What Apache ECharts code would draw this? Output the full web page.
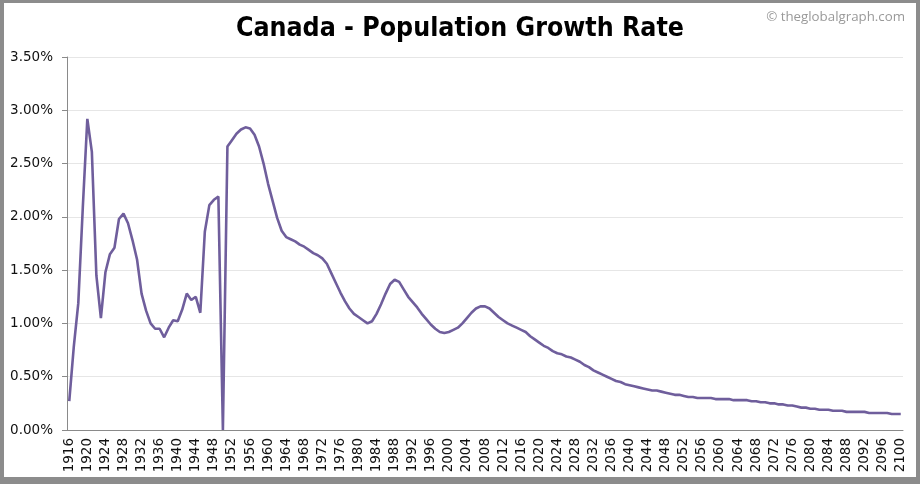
<!DOCTYPE html>
<html>
<head>
<meta charset="utf-8">
<script src="https://cdn.jsdelivr.net/npm/echarts@6/dist/echarts.min.js"></script>
<style>
html,body{margin:0;padding:0;background:#8c8c8c;width:920px;height:484px;overflow:hidden;}
#c{position:absolute;left:4px;top:3px;width:912px;height:474px;background:#fff;}
</style>
</head>
<body>
<div id="c"></div>
<script>
var chartTitle = 'Canada - Population Growth Rate';
var watermark = '© theglobalgraph.com';
var startYear = 1916, endYear = 2100;
var years = [];
for (var y = startYear; y <= endYear; y++) years.push(String(y));

// growth rate in percent, one value per year 1916..2100
var growth1916 = [0.27, 0.78, 1.19, 2.09, 2.92, 2.61, 1.45, 1.05, 1.48, 1.65, 1.71, 1.98, 2.03, 1.94];
var growth1930 = [1.78, 1.60, 1.28, 1.12, 1.00, 0.95, 0.95, 0.87, 0.96, 1.03];
var growth1940 = [1.02, 1.13, 1.28, 1.22, 1.25, 1.10, 1.86, 2.11, 2.16, 2.19];
var growth1950 = [0.00, 2.66, 2.72, 2.78, 2.82, 2.84, 2.83, 2.77, 2.66, 2.50];
var growth1960 = [2.31, 2.15, 1.99, 1.87, 1.81, 1.79, 1.77, 1.74, 1.72, 1.69];
var growth1970 = [1.66, 1.64, 1.61, 1.56, 1.47, 1.38, 1.29, 1.21, 1.14, 1.09];
var growth1980 = [1.06, 1.03, 1.00, 1.02, 1.09, 1.18, 1.28, 1.37, 1.41, 1.39];
var growth1990 = [1.32, 1.25, 1.20, 1.15, 1.09, 1.04, 0.99, 0.95, 0.92, 0.91];
var growth2000 = [0.92, 0.94, 0.96, 1.00, 1.05, 1.10, 1.14, 1.16, 1.16, 1.14];
var growth2010 = [1.10, 1.06, 1.03, 1.00, 0.98, 0.96, 0.94, 0.92, 0.88, 0.85];
var growth2020 = [0.82, 0.79, 0.77, 0.74, 0.72, 0.71, 0.69, 0.68, 0.66, 0.64];
var growth2030 = [0.61, 0.59, 0.56, 0.54, 0.52, 0.50, 0.48, 0.46, 0.45, 0.43];
var growth2040 = [0.42, 0.41, 0.40, 0.39, 0.38, 0.37, 0.37, 0.36, 0.35, 0.34];
var growth2050 = [0.33, 0.33, 0.32, 0.31, 0.31, 0.30, 0.30, 0.30, 0.30, 0.29];
var growth2060 = [0.29, 0.29, 0.29, 0.28, 0.28, 0.28, 0.28, 0.27, 0.27, 0.26];
var growth2070 = [0.26, 0.25, 0.25, 0.24, 0.24, 0.23, 0.23, 0.22, 0.21, 0.21];
var growth2080 = [0.20, 0.20, 0.19, 0.19, 0.19, 0.18, 0.18, 0.18, 0.17, 0.17];
var growth2090 = [0.17, 0.17, 0.17, 0.16, 0.16, 0.16, 0.16, 0.16, 0.15, 0.15];
var growth2100 = [0.15];

var growth = [].concat(growth1916, growth1930, growth1940, growth1950, growth1960,
  growth1970, growth1980, growth1990, growth2000, growth2010, growth2020, growth2030,
  growth2040, growth2050, growth2060, growth2070, growth2080, growth2090, growth2100);

var yMin = 0, yMax = 3.5, yStep = 0.5;

var chart = echarts.init(document.getElementById('c'), null, {renderer: 'canvas'});
chart.setOption({
  backgroundColor: '#ffffff',
  animation: false,
  title: [{
    text: chartTitle,
    left: 'center',
    top: 8,
    textStyle: {fontFamily: 'DejaVu Sans Condensed', fontWeight: 'bold', fontSize: 26.5, color: '#000'}
  }, {
    text: watermark,
    right: 6,
    top: 3,
    textStyle: {fontFamily: 'Open Sans', fontWeight: 'normal', fontSize: 13.3, color: '#999'}
  }],
  grid: {left: 63, right: 13, top: 54, bottom: 47, containLabel: false},
  xAxis: {
    type: 'category',
    data: years,
    boundaryGap: true,
    axisLine: {lineStyle: {color: '#8a8a8a', width: 1}},
    axisTick: {interval: 0, length: 4, lineStyle: {color: '#8a8a8a'}},
    axisLabel: {interval: 3, rotate: 90, fontFamily: 'DejaVu Sans', fontSize: 13.5, color: '#111', margin: 8},
    splitLine: {show: false}
  },
  yAxis: {
    type: 'value',
    min: yMin, max: yMax, interval: yStep,
    axisLine: {show: true, lineStyle: {color: '#8a8a8a', width: 1}},
    axisTick: {show: true, length: 5, lineStyle: {color: '#8a8a8a'}},
    axisLabel: {fontFamily: 'DejaVu Sans', fontSize: 13.5, color: '#111', margin: 14,
      formatter: function (v) { return v.toFixed(2) + '%'; }},
    splitLine: {lineStyle: {color: '#e6e6e6', width: 1}}
  },
  series: [{
    type: 'line',
    data: growth,
    symbol: 'none',
    smooth: false,
    lineStyle: {color: '#6f5e9c', width: 2.6}
  }]
});
</script>
</body>
</html>
